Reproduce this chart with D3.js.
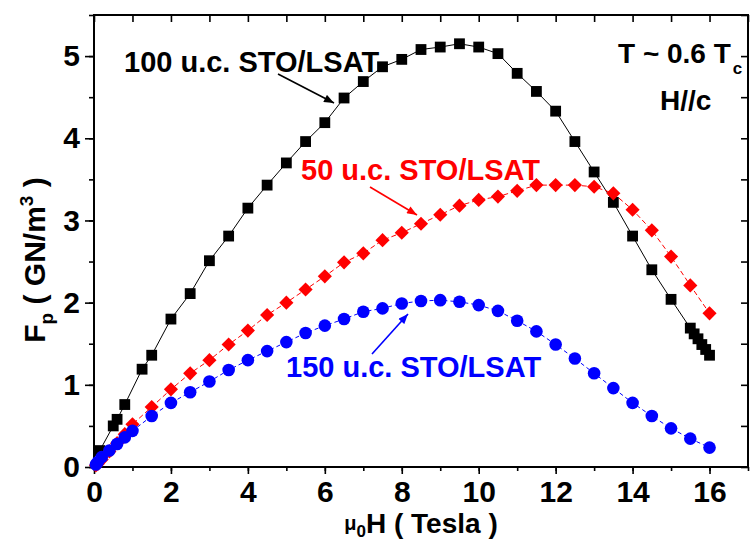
<!DOCTYPE html>
<html>
<head>
<meta charset="utf-8">
<script src="https://cdn.jsdelivr.net/npm/d3@7"></script>
<style>
  body { margin: 0; background: #fff; }
  svg { display: block; font-family: "Liberation Sans", Arial, sans-serif; font-weight: bold; }
</style>
</head>
<body>
<svg id="chart" width="752" height="540"></svg>
<script>
// 100 u.c. STO/LSAT
const fieldBlack = [0.15, 0.5, 0.6, 0.8, 1.25, 1.5, 2, 2.5, 3, 3.5, 4, 4.5, 5, 5.5, 6, 6.5, 7, 7.5, 8, 8.5, 9, 9.5, 10, 10.5, 11, 11.5, 12, 12.5, 13, 13.5, 14, 14.5, 15, 15.5, 15.6, 15.7, 15.8, 15.9, 16];
const fpBlack = [0.2, 0.5, 0.58, 0.76, 1.19, 1.36, 1.8, 2.11, 2.51, 2.81, 3.15, 3.43, 3.70, 3.96, 4.19, 4.49, 4.69, 4.87, 4.96, 5.08, 5.11, 5.15, 5.11, 5.03, 4.79, 4.57, 4.33, 3.96, 3.59, 3.22, 2.81, 2.40, 2.04, 1.69, 1.62, 1.56, 1.49, 1.43, 1.36];

// 50 u.c. STO/LSAT
const fieldRed = [0.05, 0.1, 0.2, 0.4, 0.6, 0.8, 1, 1.5, 2, 2.5, 3, 3.5, 4, 4.5, 5, 5.5, 6, 6.5, 7, 7.5, 8, 8.5, 9, 9.5, 10, 10.5, 11, 11.5, 12, 12.5, 13, 13.5, 14, 14.5, 15, 15.5, 16];
const fpRed = [0.02, 0.04, 0.09, 0.19, 0.29, 0.40, 0.52, 0.73, 0.945, 1.14, 1.30, 1.49, 1.66, 1.85, 2.00, 2.16, 2.32, 2.49, 2.60, 2.76, 2.85, 2.96, 3.07, 3.18, 3.25, 3.29, 3.36, 3.43, 3.43, 3.43, 3.41, 3.33, 3.13, 2.88, 2.56, 2.21, 1.87];

// 150 u.c. STO/LSAT
const fieldBlue = [0.05, 0.1, 0.2, 0.4, 0.6, 0.8, 1, 1.5, 2, 2.5, 3, 3.5, 4, 4.5, 5, 5.5, 6, 6.5, 7, 7.5, 8, 8.5, 9, 9.5, 10, 10.5, 11, 11.5, 12, 12.5, 13, 13.5, 14, 14.5, 15, 15.5, 16];
const fpBlue = [0.03, 0.06, 0.12, 0.2, 0.28, 0.36, 0.44, 0.62, 0.78, 0.91, 1.04, 1.18, 1.30, 1.41, 1.52, 1.63, 1.72, 1.80, 1.89, 1.93, 1.99, 2.02, 2.03, 2.01, 1.97, 1.90, 1.78, 1.65, 1.49, 1.32, 1.14, 0.96, 0.78, 0.62, 0.47, 0.345, 0.236];

const xTicks = [0, 2, 4, 6, 8, 10, 12, 14, 16];
const yTicks = [0, 1, 2, 3, 4, 5];

const svg = d3.select('#chart');
const plotLeft = 94, plotRight = 748, plotTop = 15, plotBottom = 467;

const x = d3.scaleLinear().domain([0, 17]).range([plotLeft, plotRight]);
const y = d3.scaleLinear().domain([0, 5.5]).range([plotBottom, plotTop]);

// arrow heads
const defs = svg.append('defs');
['black', 'red', 'blue'].forEach(c => {
  defs.append('marker')
    .attr('id', 'arrow-' + c)
    .attr('viewBox', '0 0 10 8')
    .attr('refX', 10).attr('refY', 4)
    .attr('markerWidth', 11).attr('markerHeight', 8)
    .attr('markerUnits', 'userSpaceOnUse')
    .attr('orient', 'auto')
    .append('path')
    .attr('d', 'M0,0 L10,4 L0,8 Z')
    .attr('fill', c);
});

// axes
const minorX = d3.range(0, 17.01, 1);
const minorY = d3.range(0, 5.51, 0.5);

const axBottom = svg.append('g').attr('transform', `translate(0,${plotBottom})`)
  .call(d3.axisBottom(x).tickValues(minorX).tickSize(4).tickFormat(''));
axBottom.append('g').call(d3.axisBottom(x).tickValues(xTicks).tickSize(7).tickPadding(7).tickFormat(d3.format('d')));

const axLeft = svg.append('g').attr('transform', `translate(${plotLeft},0)`)
  .call(d3.axisLeft(y).tickValues(minorY).tickSize(5).tickFormat(''));
axLeft.append('g').call(d3.axisLeft(y).tickValues(yTicks).tickSize(9).tickPadding(5).tickFormat(d3.format('d')));

svg.append('g').attr('transform', `translate(0,${plotTop})`)
  .call(d3.axisBottom(x).tickValues(minorX).tickSize(7).tickFormat(''));
svg.append('g').attr('transform', `translate(${plotRight},0)`)
  .call(d3.axisRight(y).tickValues(minorY).tickSize(-7).tickFormat(''));

svg.selectAll('.domain').remove();
svg.selectAll('.tick line').attr('stroke', '#000').attr('stroke-width', 1.6);
svg.selectAll('.tick text').attr('font-size', 30).attr('fill', '#000')
  .attr('font-family', '"Liberation Sans", Arial, sans-serif').attr('font-weight', 'bold');

svg.append('rect')
  .attr('x', plotLeft).attr('y', plotTop)
  .attr('width', plotRight - plotLeft).attr('height', plotBottom - plotTop)
  .attr('fill', 'none').attr('stroke', '#000').attr('stroke-width', 2);

// series
const line = d3.line().x(d => x(d[0])).y(d => y(d[1]));

const black = d3.zip(fieldBlack, fpBlack);
const red = d3.zip(fieldRed, fpRed);
const blue = d3.zip(fieldBlue, fpBlue);

svg.append('path').datum(black).attr('d', line)
  .attr('fill', 'none').attr('stroke', '#000').attr('stroke-width', 1);
svg.append('g').selectAll('rect').data(black).enter().append('rect')
  .attr('x', d => x(d[0]) - 5.4).attr('y', d => y(d[1]) - 5.4)
  .attr('width', 10.8).attr('height', 10.8).attr('fill', '#000');

svg.append('path').datum(red).attr('d', line)
  .attr('fill', 'none').attr('stroke', '#ff0000').attr('stroke-width', 1)
  .attr('stroke-dasharray', '5,3');
svg.append('g').selectAll('path').data(red).enter().append('path')
  .attr('d', d3.symbol().type(d3.symbolSquare).size(100))
  .attr('transform', d => `translate(${x(d[0])},${y(d[1])}) rotate(45)`)
  .attr('fill', '#ff0000');

svg.append('path').datum(blue).attr('d', line)
  .attr('fill', 'none').attr('stroke', '#0000ff').attr('stroke-width', 1)
  .attr('stroke-dasharray', '4,3');
svg.append('g').selectAll('circle').data(blue).enter().append('circle')
  .attr('cx', d => x(d[0])).attr('cy', d => y(d[1]))
  .attr('r', 6.3).attr('fill', '#0000ff');

// annotations
svg.append('text').attr('x', 124).attr('y', 72).attr('font-size', 29)
  .attr('fill', '#000').text('100 u.c. STO/LSAT');
svg.append('line').attr('x1', 278).attr('y1', 74).attr('x2', 334).attr('y2', 103)
  .attr('stroke', '#000').attr('stroke-width', 1.6).attr('marker-end', 'url(#arrow-black)');

svg.append('text').attr('x', 301).attr('y', 180).attr('font-size', 29)
  .attr('fill', '#ff0000').text('50 u.c. STO/LSAT');
svg.append('line').attr('x1', 370).attr('y1', 187).attr('x2', 417).attr('y2', 215)
  .attr('stroke', '#ff0000').attr('stroke-width', 1.6).attr('marker-end', 'url(#arrow-red)');

svg.append('text').attr('x', 286).attr('y', 377).attr('font-size', 29)
  .attr('fill', '#0000ff').text('150 u.c. STO/LSAT');
svg.append('line').attr('x1', 372).attr('y1', 354).attr('x2', 408).attr('y2', 314)
  .attr('stroke', '#0000ff').attr('stroke-width', 1.6).attr('marker-end', 'url(#arrow-blue)');

const tLabel = svg.append('text').attr('x', 618).attr('y', 63).attr('font-size', 28).attr('fill', '#000');
tLabel.append('tspan').text('T ~ 0.6 T');
tLabel.append('tspan').attr('font-size', 17).attr('dx', 2).attr('dy', 11).text('c');

svg.append('text').attr('x', 660).attr('y', 110).attr('font-size', 28).attr('fill', '#000').text('H//c');

// axis titles
const xTitle = svg.append('text').attr('x', 421).attr('y', 533)
  .attr('text-anchor', 'middle').attr('font-size', 28).attr('fill', '#000');
xTitle.append('tspan').attr('font-size', 20).attr('dy', -3).text('μ');
xTitle.append('tspan').attr('font-size', 17).attr('dy', 7).text('0');
xTitle.append('tspan').attr('dy', -4).text('H ( Tesla )');

const yTitle = svg.append('text')
  .attr('transform', 'translate(45,260) rotate(-90)')
  .attr('text-anchor', 'middle').attr('font-size', 30).attr('fill', '#000');
yTitle.append('tspan').text('F');
yTitle.append('tspan').attr('font-size', 19).attr('dy', 8).text('p');
yTitle.append('tspan').attr('dy', -8).text(' ( GN/m');
yTitle.append('tspan').attr('font-size', 19).attr('dy', -12).text('3');
yTitle.append('tspan').attr('dy', 12).text(' )');
</script>
</body>
</html>
